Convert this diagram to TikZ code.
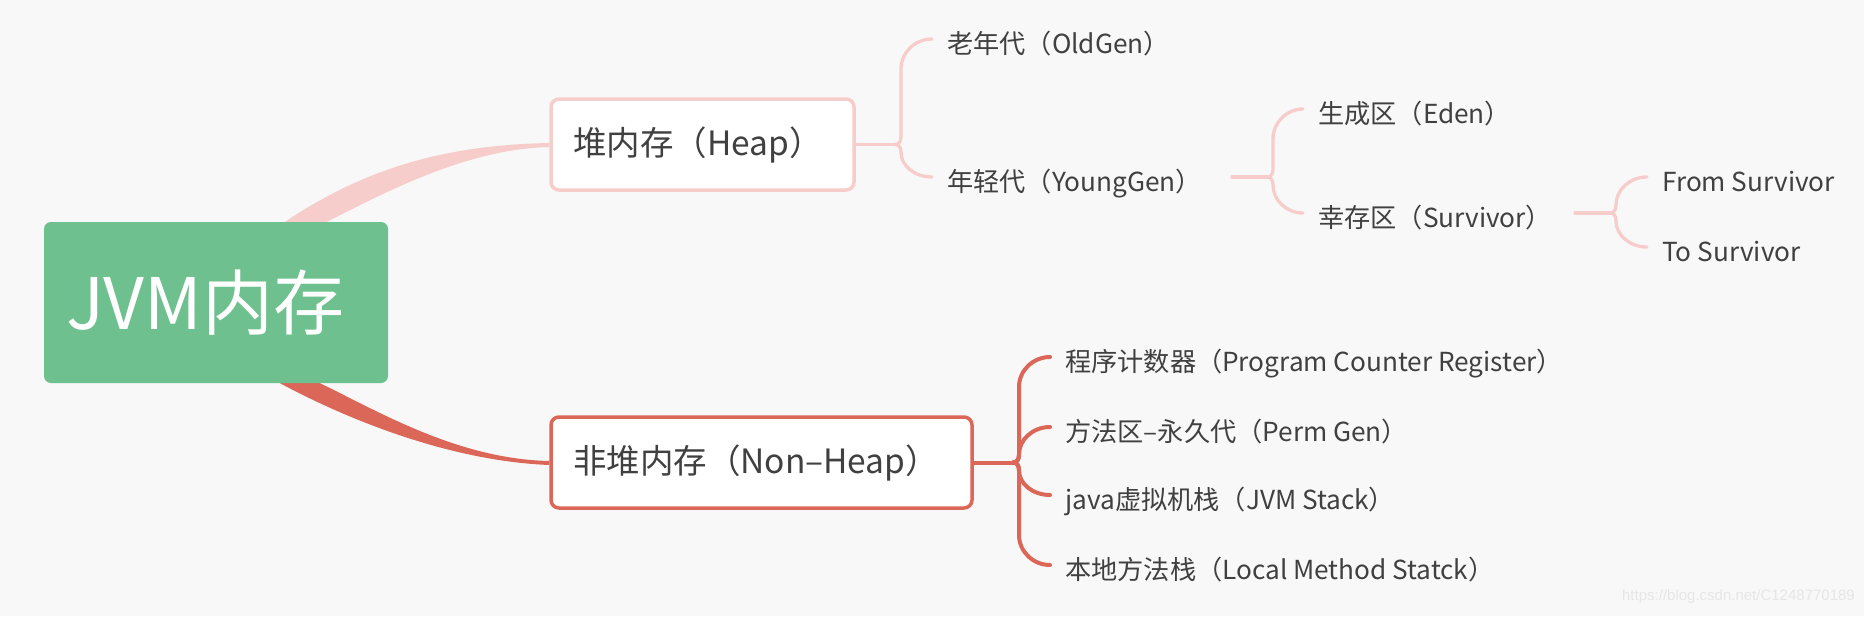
\documentclass[tikz,border=0pt]{standalone}
\usepackage{fontspec}
\setmainfont{Noto Sans CJK SC}
\newfontfamily\wmfont{Liberation Sans}
\usetikzlibrary{calc}
\pgfdeclarelayer{background}
\pgfsetlayers{background,main}
\definecolor{bgc}{RGB}{248,248,248}
\definecolor{greenc}{RGB}{111,192,143}
\definecolor{pinkc}{RGB}{247,205,203}
\definecolor{redc}{RGB}{218,103,87}
\definecolor{textc}{RGB}{64,64,64}
\definecolor{wmc}{RGB}{230,230,230}
\tikzset{
  rootbox/.style={fill=greenc,rounded corners=7pt,minimum width=344pt,minimum height=161pt,inner xsep=22pt,text width=300pt,align=left,text=white,font=\fontsize{71}{75}\selectfont},
  membox/.style={fill=white,line width=3.5pt,rounded corners=8pt,minimum height=91pt,inner xsep=22pt,align=left,text=textc,font=\fontsize{33.5}{36}\selectfont},
  leaf/.style={anchor=west,inner xsep=15pt,inner ysep=0pt,text height=23pt,text depth=3pt,text=textc,font=\fontsize{26.2}{29}\selectfont},
  pinkline/.style={draw=pinkc,line width=3.3pt,line cap=round,line join=round},
  redline/.style={draw=redc,line width=4pt,line cap=round,line join=round},
  wmark/.style={text=wmc,font=\wmfont\fontsize{15}{17}\selectfont,inner sep=0pt}
}
% one branch of a bracket: style, junction, child node
\newcommand{\twig}[3]{%
  \draw[#1] let \p1=(#2), \p2=([yshift=4pt]#3.west),
    \n1={ifthenelse(\y2>\y1,1,-1)}, \n2={min(30,abs(\y2-\y1)-8)}, \n3={\x2-\x1-6} in
    (\p1) .. controls (\x1+4pt,\y1) and (\x1+6pt,\y1+\n1*3pt) .. (\x1+6pt,\y1+\n1*8pt)
    -- (\x1+6pt,\y2-\n1*\n2*1pt)
    .. controls (\x1+6pt,\y2-\n1*\n2*0.45pt) and (\x2-\n3*0.55pt,\y2) .. (\p2);
}
\begin{document}
\begin{tikzpicture}[x=1pt,y=-1pt]
    \useasboundingbox (0,0) rectangle (1864,616);
    \node[rootbox] (root) at (216,302.5) {JVM内存};
    \node[membox,draw=pinkc,text width=259pt] (heap) at (702.5,144.5) {堆内存（Heap）};
    \node[membox,draw=redc,text width=377pt] (nheap) at (761.5,462.5) {非堆内存（Non–Heap）};
    % heap
    \node[leaf] (old) at (932,43) {老年代（OldGen）};
    \node[leaf] (young) at (932,181) {年轻代（YoungGen）};
    \node[leaf] (eden) at (1303,113) {生成区（Eden）};
    \node[leaf] (surv) at (1303,217) {幸存区（Survivor）};
    \node[leaf] (fromsurv) at (1647,181) {From Survivor};
    \node[leaf] (tosurv) at (1647,251) {To Survivor};
    % non heap
    \node[leaf] (pcr) at (1050,361) {程序计数器（Program Counter Register）};
    \node[leaf] (perm) at (1050,431) {方法区–永久代（Perm Gen）};
    \node[leaf] (jstack) at (1050,499) {java虚拟机栈（JVM Stack）};
    \node[leaf] (lstack) at (1050,569) {本地方法栈（Local Method Statck）};
    \node[wmark,anchor=east] (wm) at (1855,597) {https://blog.csdn.net/C1248770189};
    \coordinate (hj) at (895,144.5);
    \coordinate (nj) at (1013,462.5);
    \coordinate (ys) at (1232,177);
    \coordinate (yj) at (1267,177);
    \coordinate (ss) at (1575,213);
    \coordinate (sj) at (1610,213);
    \begin{pgfonlayer}{background}
    \fill[bgc] (0,0) rectangle (1864,616);
    \fill[pinkc] ([xshift=40pt,yshift=-30pt]root.north) -- ([xshift=69pt]root.north)
        .. controls +(75,-50) and +(-111,2) .. ([yshift=1.5pt]heap.west)
        -- ([yshift=-2.5pt]heap.west)
        .. controls +(-81,2) and +(63,-32) .. ([xshift=111pt]root.north)
        -- ([xshift=80pt,yshift=-30pt]root.north) -- cycle;
    \fill[redc] ([xshift=40pt,yshift=30pt]root.south) -- ([xshift=64pt]root.south)
        .. controls +(65,35) and +(-101,-4) .. ([yshift=-2.5pt]nheap.west)
        -- ([yshift=1.5pt]nheap.west)
        .. controls +(-91,-2) and +(60,29) .. ([xshift=104pt]root.south)
        -- ([xshift=80pt,yshift=30pt]root.south) -- cycle;
    \end{pgfonlayer}
    \draw[pinkline] (heap.east) -- (hj);
    \foreach \c in {old,young}{\twig{pinkline}{hj}{\c}}
    \draw[pinkline] (ys) -- (yj);
    \foreach \c in {eden,surv}{\twig{pinkline}{yj}{\c}}
    \draw[pinkline] (ss) -- (sj);
    \foreach \c in {fromsurv,tosurv}{\twig{pinkline}{sj}{\c}}
    \draw[redline] (nheap.east) -- (nj);
    \foreach \c in {pcr,perm,jstack,lstack}{\twig{redline}{nj}{\c}}
\end{tikzpicture}
\end{document}
